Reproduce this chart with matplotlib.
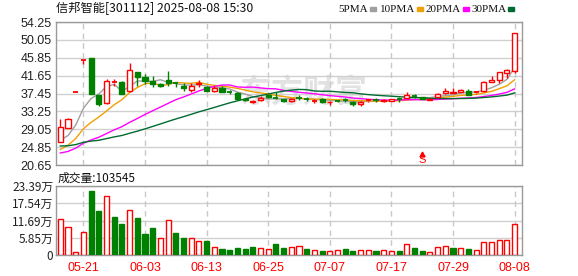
import numpy as np
import pandas as pd
import matplotlib
matplotlib.use("Agg")
import matplotlib.pyplot as plt

# trading days shown, one per bar (05-16 .. 08-08)
tick_pos = [3, 11, 19, 27, 35, 43, 51, 59]
tick_labels = ["05-21", "06-03", "06-13", "06-25", "07-07", "07-17", "07-29", "08-08"]

# closes before the first visible bar (only feed the moving averages)
pre_close = [29.4, 29.7, 29.1, 28.8, 29.3, 28.5, 27.9, 27.4, 27.1, 26.7,
             24.0, 22.5, 21.8, 22.0, 22.4, 22.9, 22.6, 22.3, 22.8, 23.1,
             21.5, 21.9, 22.2, 22.3, 22.6, 26.1, 25.3, 25.5, 25.95]

opens = [26.0, 29.3, 37.7, 45.24, 45.9, 37.0, 35.15, 39.95, 40.15, 38.0,
         42.4, 41.25, 40.3, 39.6, 40.55, 39.9, 39.3, 38.3, 39.7, 39.05,
         38.1, 38.65, 37.95, 37.5, 36.1, 35.4, 35.85, 37.1, 36.6, 36.1,
         35.7, 36.6, 36.15, 35.7, 36.25, 35.35, 35.75, 35.9, 35.5, 35.0,
         35.8, 35.9, 35.6, 35.7, 36.15, 36.3, 36.9, 36.55, 36.0, 36.55,
         37.5, 37.6, 37.8, 37.95, 37.6, 38.05, 40.15, 40.6, 42.2, 42.8]
highs = [31.46, 31.7, 37.7, 45.24, 45.9, 37.0, 40.9, 40.9, 40.4, 44.6,
         42.4, 42.0, 41.6, 39.9, 42.7, 40.2, 39.85, 40.0, 40.55, 39.3,
         39.2, 39.2, 38.3, 37.7, 36.3, 35.9, 36.9, 37.3, 37.9, 36.2,
         36.3, 37.2, 36.6, 36.1, 36.4, 35.75, 36.0, 36.3, 35.6, 35.75,
         36.2, 36.4, 36.1, 36.2, 36.6, 37.8, 37.3, 36.7, 36.4, 37.6,
         38.65, 38.75, 38.5, 38.5, 38.0, 40.4, 41.55, 42.6, 43.3, 51.6]
lows = [25.95, 29.3, 37.7, 44.4, 37.4, 34.6, 35.1, 39.2, 37.25, 37.8,
        39.3, 39.6, 38.9, 39.05, 39.3, 39.05, 38.1, 37.7, 39.05, 38.0,
        37.9, 37.9, 37.35, 35.9, 35.7, 35.2, 35.8, 36.3, 36.1, 35.5,
        35.5, 35.9, 35.6, 35.3, 35.3, 34.8, 35.4, 35.4, 34.5, 34.5,
        35.5, 35.5, 35.5, 35.6, 35.5, 36.3, 36.5, 36.2, 35.9, 36.5,
        37.4, 37.6, 37.7, 37.1, 37.4, 37.9, 40.1, 40.0, 41.2, 42.2]
closes = [29.65, 31.4, 37.7, 45.24, 37.45, 34.9, 40.3, 40.05, 37.3, 42.9,
          41.3, 40.3, 39.6, 39.3, 39.85, 39.8, 38.8, 39.3, 39.85, 38.1,
          38.8, 37.9, 37.85, 36.25, 35.85, 35.75, 36.4, 36.55, 36.5, 35.6,
          36.25, 36.5, 36.05, 35.8, 35.4, 35.5, 35.7, 35.85, 35.0, 35.45,
          35.9, 35.85, 36.0, 36.15, 36.1, 37.0, 36.85, 36.25, 36.2, 37.35,
          38.1, 37.75, 38.3, 37.2, 37.7, 40.15, 40.6, 42.45, 43.0, 51.6]

# volume in 万手, and whether the volume bar is drawn red
volume = [12.1, 9.4, 0.9, 7.7, 21.7, 14.9, 20.0, 12.9, 10.6, 15.1,
          12.5, 7.1, 9.15, 5.65, 11.75, 7.45, 5.75, 5.65, 4.6, 4.75,
          2.6, 2.0, 1.7, 2.4, 2.0, 2.7, 2.25, 1.9, 3.7, 2.4,
          2.6, 2.9, 2.0, 1.6, 1.35, 1.25, 1.6, 2.0, 1.35, 1.6,
          1.6, 1.35, 1.6, 1.25, 1.35, 3.6, 2.25, 1.35, 0.9, 2.6,
          2.9, 2.4, 2.25, 2.0, 1.6, 4.3, 4.3, 5.0, 5.0, 10.35]
vol_up = [1, 1, 1, 1, 0, 0, 1, 0, 0, 1,
          0, 0, 0, 1, 1, 0, 0, 1, 1, 0,
          1, 0, 0, 0, 0, 0, 1, 1, 0, 0,
          1, 1, 0, 1, 0, 1, 1, 0, 0, 1,
          1, 0, 1, 1, 0, 1, 0, 0, 1, 1,
          1, 0, 1, 0, 1, 1, 1, 1, 1, 1]

price_ticks = [20.65, 24.85, 29.05, 33.25, 37.45, 41.65, 45.85, 50.05, 54.25]
vol_ticks = [0, 5.85, 11.69, 17.54, 23.39]
vol_tick_labels = ["0", "5.85万", "11.69万", "17.54万", "23.39万"]

ma_periods = [5, 10, 20, 30]
ma_colors = ["#a0a0a0", "#f0a000", "#ff00ff", "#006b30"]

RED = "#ff0000"
GREEN = "#008000"
GRID = "#d0d0d0"
FRAME = "#999999"

plt.rcParams['font.family'] = ['Noto Sans CJK SC', 'DejaVu Sans']

W, H = 578, 276
fig = plt.figure(figsize=(W / 100, H / 100), dpi=100)


def px_rect(x0, y0, x1, y1):
    return [x0 / W, 1 - y1 / H, (x1 - x0) / W, (y1 - y0) / H]


ax = fig.add_axes(px_rect(56, 22, 522, 165))
axv = fig.add_axes(px_rect(56, 186, 522, 255))

n = len(closes)
x = np.arange(n)
o = np.array(opens)
c = np.array(closes)
hi = np.array(highs)
lo = np.array(lows)

# moving averages
all_close = pd.Series(pre_close + closes)
for p, col in zip(ma_periods, ma_colors):
    ma = all_close.rolling(p).mean().values[-n:]
    ax.plot(x, ma, color=col, lw=1, zorder=2)

# candles
bw = 0.66
up = c >= o
body_lo = np.minimum(o, c)
body_hi = np.maximum(o, c)
for i in range(n):
    col = RED if up[i] else GREEN
    ax.vlines(x[i], lo[i], body_lo[i], color=col, lw=1, zorder=3)
    ax.vlines(x[i], body_hi[i], hi[i], color=col, lw=1, zorder=3)
    if body_hi[i] - body_lo[i] < 0.12:
        ax.hlines(c[i], x[i] - bw / 2, x[i] + bw / 2, color=col, lw=1.3, zorder=4)
    else:
        ax.bar(x[i], body_hi[i] - body_lo[i], bottom=body_lo[i], width=bw,
               facecolor="white" if up[i] else GREEN, edgecolor=col,
               lw=1, zorder=4)

# "S" signal marker
ax.text(47, 21.75, "S", color=RED, ha="center", va="center",
        fontsize=8, family="Liberation Sans", zorder=5)
ax.plot(47, 23.35, marker="^", color=RED, ms=3.5, zorder=5)

# watermark
ax.text(0.53, 0.5, "东方财富", transform=ax.transAxes, ha="center", va="center",
        fontsize=23, color="#e2e2e2", fontweight="bold", style="italic", zorder=0)

# volume
vcols = [RED if u else GREEN for u in vol_up]
vfaces = ["white" if u else GREEN for u in vol_up]
axv.bar(x, volume, width=bw, facecolor=vfaces, edgecolor=vcols, lw=1, zorder=3)

xlim = (-0.56, 59.96)
for a in (ax, axv):
    a.set_xlim(*xlim)
    for s in a.spines.values():
        s.set_color(FRAME)
        s.set_linewidth(1)
    a.tick_params(length=0)
    a.set_axisbelow(True)
    for t in tick_pos:
        a.axvline(t, color="#c8c8c8", lw=1, ls=(0, (4, 3)), zorder=1)

ax.set_ylim(price_ticks[0], price_ticks[-1])
ax.set_yticks(price_ticks)
ax.set_yticklabels([f"{v:.2f}" for v in price_ticks], family="Liberation Sans",
                   fontsize=9, color="#222222")
ax.yaxis.grid(True, color=GRID, lw=1)
ax.set_xticks([])

axv.set_ylim(0, vol_ticks[-1])
axv.set_yticks(vol_ticks)
axv.set_yticklabels(vol_tick_labels, fontsize=8.5, color="#222222")
axv.yaxis.grid(True, color=GRID, lw=1)
axv.set_xticks(tick_pos)
axv.set_xticklabels(tick_labels, family="Liberation Sans", fontsize=9, color=RED)
axv.tick_params(axis="x", pad=5)
axv.tick_params(axis="y", pad=2)
ax.tick_params(axis="y", pad=3)

# header texts
fig.text(56 / W, 1 - 9 / H, "信邦智能[301112] 2025-08-08 15:30", fontsize=8.8,
         va="center", ha="left", color="#111111")
fig.text(58 / W, 1 - 178 / H, "成交量:103545", fontsize=8.5,
         va="center", ha="left", color="#111111")

# MA legend: label then a small colour chip right after it
renderer = fig.canvas.get_renderer()
legend_x = [338, 380, 426, 471]
for lx, p, col in zip(legend_x, ma_periods, ma_colors):
    t = fig.text(lx / W, 1 - 9 / H, f"{p}PMA", fontsize=8, family="Liberation Serif",
                 va="center", ha="left", color="#111111")
    x_end = t.get_window_extent(renderer).x1
    fig.patches.append(plt.Rectangle(((x_end + 2) / W, 1 - 10.5 / H), 6 / W, 3 / H,
                                     transform=fig.transFigure, color=col))

fig.savefig("out.png", dpi=100)
